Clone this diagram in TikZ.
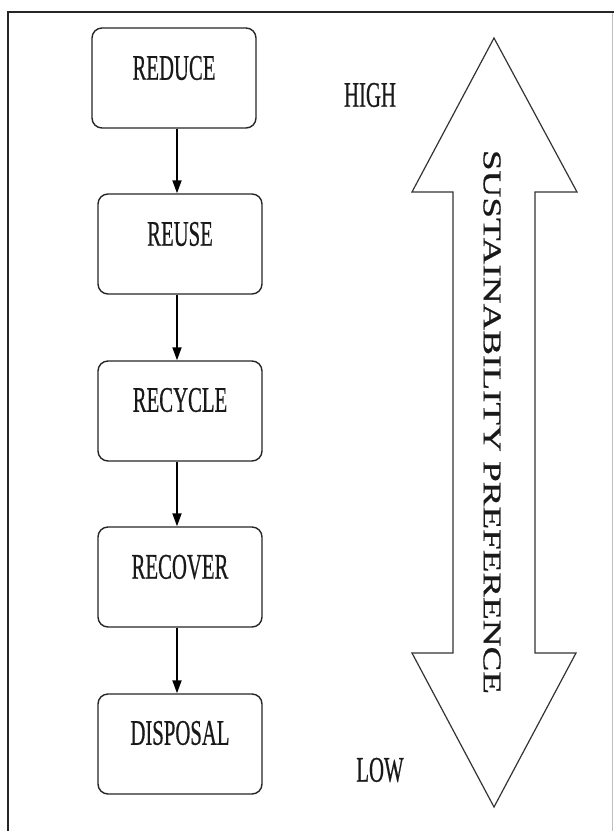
\documentclass[tikz,border=0pt]{standalone}
\usepackage{fontspec}
\usepackage{graphicx}
\setmainfont{Liberation Serif}
\newfontfamily\lblfont{Liberation Serif}[FakeBold=0.7]
\usetikzlibrary{arrows.meta,calc}
\newcommand{\lbl}[1]{\scalebox{0.576}[1]{\fontsize{36}{40}\lblfont #1}}
\begin{document}
\begin{tikzpicture}[x=1pt,y=-1pt,
  box/.style={draw=black!85, line width=1.4pt, rounded corners=10pt, minimum width=164pt, minimum height=100pt, inner sep=0pt},
  flow/.style={-{Triangle[length=13pt,width=9pt]}, line width=1.8pt, black},
  word/.style={inner sep=0pt, anchor=center, text=black!90}]
\useasboundingbox (0,0) rectangle (614,831);
\fill[white] (0,0) rectangle (614,831);
% frame
\draw[line width=1pt, black!25] (612.5,12) -- (612.5,831);
\draw[line width=2.6pt, black!85] (8,831) -- (8,12) -- (614,12);
% boxes
\node[box] (reduce) at (174,78) {};
\node[box] (reuse) at (180,244) {};
\node[box] (recycle) at (180,411) {};
\node[box] (recover) at (180,577) {};
\node[box] (disposal) at (180,744) {};
% labels
\node[word] (treduce) at (174,68) {\lbl{REDUCE}};
\node[word] (treuse) at (180,234) {\lbl{REUSE}};
\node[word] (trecycle) at (180,400) {\lbl{RECYCLE}};
\node[word] (trecover) at (180,567) {\lbl{RECOVER}};
\node[word] (tdisposal) at (180,733) {\lbl{DISPOSAL}};
% connectors
\coordinate (axis) at (177,0);
\draw[flow] (reduce.south -| axis) -- (reuse.north -| axis);
\draw[flow] (reuse.south -| axis) -- (recycle.north -| axis);
\draw[flow] (recycle.south -| axis) -- (recover.north -| axis);
\draw[flow] (recover.south -| axis) -- (disposal.north -| axis);
% double arrow
\draw[line width=1.2pt, black!80, line join=miter]
  (494,38) -- (577,192) -- (535,192) -- (535,653) -- (576,653) -- (494,807)
  -- (412,653) -- (453,653) -- (453,192) -- (412,192) -- cycle;
\node[inner sep=0pt, rotate=-90, text=black!90] (pref) at (492,422)
  {\resizebox{544pt}{17pt}{\lblfont SUSTAINABILITY PREFERENCE}};
% high / low
\node[word] (high) at (370,95) {\lbl{HIGH}};
\node[word] (low) at (380,770) {\lbl{LOW}};
\end{tikzpicture}
\end{document}
